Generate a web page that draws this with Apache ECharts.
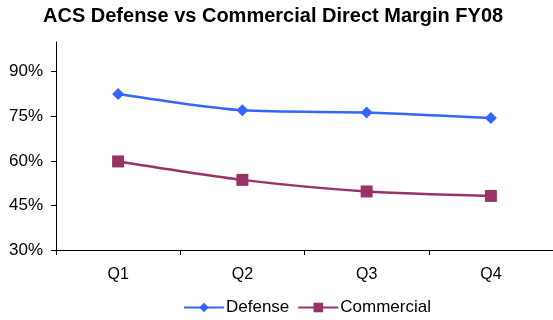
<!DOCTYPE html>
<html>
<head>
<meta charset="utf-8">
<script src="https://cdn.jsdelivr.net/npm/echarts@6/dist/echarts.min.js"></script>
<style>
  html, body { margin: 0; padding: 0; background: #fff; }
  #chart { width: 553px; height: 320px; }
</style>
</head>
<body>
<div id="chart"></div>
<script>
// Quarterly direct margin, FY08 (percent)
const quarters = ['Q1', 'Q2', 'Q3', 'Q4'];
const defenseMargin = [82.5, 77.0, 76.3, 74.4];
const commercialMargin = [59.8, 53.6, 49.7, 48.2];
const yTicks = [30, 45, 60, 75, 90];

const chart = echarts.init(document.getElementById('chart'), null, { renderer: 'canvas' });
const font = '"Liberation Sans", Arial, sans-serif';

chart.setOption({
  animation: false,
  backgroundColor: '#ffffff',
  title: {
    text: 'ACS Defense vs Commercial Direct Margin FY08',
    left: 38,
    top: 1,
    textStyle: { fontFamily: font, fontSize: 20, fontWeight: 'bold', color: '#000' }
  },
  legend: {
    top: 294,
    left: 178,
    itemWidth: 40,
    itemHeight: 12,
    itemGap: 8,
    textStyle: { fontFamily: font, fontSize: 17, color: '#000', padding: [0, 0, 0, -3] },
    data: ['Defense', 'Commercial']
  },
  grid: { left: 56, right: 0, top: 42, bottom: 70, containLabel: false },
  xAxis: {
    type: 'category',
    data: quarters,
    boundaryGap: true,
    axisLine: { lineStyle: { color: '#000', width: 1 } },
    axisTick: { show: true, length: 5, lineStyle: { color: '#000' } },
    axisLabel: { fontFamily: font, fontSize: 16, color: '#000', margin: 17 }
  },
  yAxis: {
    type: 'value',
    min: yTicks[0],
    max: 100,
    interval: yTicks[1] - yTicks[0],
    splitLine: { show: false },
    axisLine: { show: true, lineStyle: { color: '#000', width: 1 } },
    axisTick: { show: true, length: 5, lineStyle: { color: '#000' } },
    axisLabel: {
      fontFamily: font, fontSize: 17, color: '#000', margin: 13,
      showMaxLabel: false,
      formatter: v => (yTicks.includes(v) ? v + '%' : '')
    }
  },
  series: [
    {
      name: 'Defense',
      type: 'line',
      data: defenseMargin,
      smooth: 0.25,
      symbol: 'diamond',
      symbolSize: 12,
      color: '#3366FF',
      lineStyle: { width: 2.5, color: '#3366FF' },
      itemStyle: { color: '#3366FF' }
    },
    {
      name: 'Commercial',
      type: 'line',
      data: commercialMargin,
      smooth: 0.25,
      symbol: 'rect',
      symbolSize: 12,
      color: '#993366',
      lineStyle: { width: 2.5, color: '#993366' },
      itemStyle: { color: '#993366' }
    }
  ]
});
</script>
</body>
</html>
